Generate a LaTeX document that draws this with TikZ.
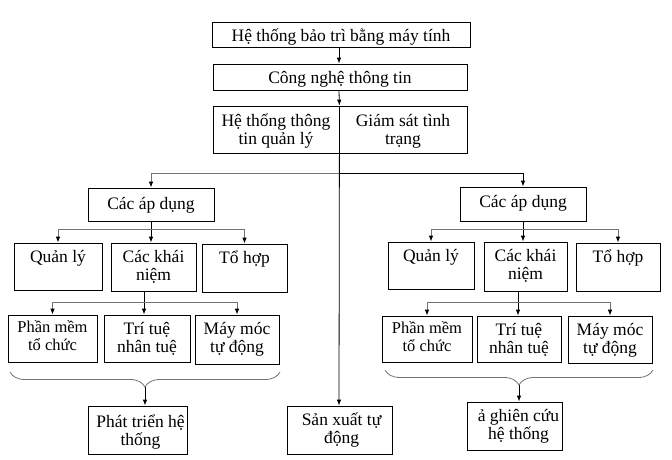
\documentclass[tikz,border=0pt]{standalone}
\usepackage{fontspec}
\setmainfont{Liberation Serif}
\usetikzlibrary{arrows.meta,fit,decorations.pathreplacing}
\tikzset{
  frame/.style={draw, line width=0.8pt, inner sep=0pt},
  lbl/.style={anchor=north, inner sep=0pt, align=center, font=\fontsize{17.5}{18}\selectfont},
  sml/.style={font=\fontsize{16.5}{17.5}\selectfont},
  arr/.style={line width=0.8pt, -{Latex[length=6pt,width=4.5pt,color=black]}},
  ln/.style={line width=0.8pt},
  gl/.style={draw=black!55},
  br/.style={line width=0.8pt, draw=black!55, decorate, decoration={brace, mirror, amplitude=15pt}},
}
% #1 label options, #2 name, #3 x1, #4 y1, #5 x2, #6 y2, #7 text
\newcommand\mkbox[7][]{%
  \node[frame, fit={(#3,-#4) (#5,-#6)}] (#2) {};
  \node[lbl,#1] (#2-t) at ([yshift=-3pt]#2.north) {\rule{0pt}{17pt}#7};
}
\begin{document}
\begin{tikzpicture}[x=1pt,y=1pt]
\useasboundingbox (0,0) rectangle (672,-459);
\fill[white] (0,0) rectangle (672,-459);

% top chain
\mkbox{top}{212}{22}{470}{47}{Hệ thống bảo trì bằng máy tính}
\mkbox{cn}{213}{64}{467}{90}{Công nghệ thông tin}
\mkbox[yshift=-1pt]{misl}{213}{106}{339}{153}{Hệ thống thông\\tin quản lý}
\mkbox[yshift=-1pt]{misr}{339}{106}{467}{153}{Giám sát tình\\trạng}

% left branch
\mkbox[yshift=-2pt]{ad1}{88}{188}{214}{221}{Các áp dụng}
\mkbox{ql1}{14}{243}{102}{290}{Quản lý}
\mkbox{ckn1}{111}{243}{196}{291}{Các khái\\niệm}
\mkbox{th1}{202}{244}{287}{292}{Tổ hợp}
\mkbox[sml,yshift=2pt]{pm1}{8}{315}{97}{362}{Phần mềm\\tổ chức}
\mkbox{tt1}{104}{315}{190}{362}{Trí tuệ\\nhân tuệ}
\mkbox{mm1}{195}{315}{279}{364}{Máy móc\\tự động}
\mkbox[yshift=-2pt,xshift=3pt]{pt1}{88}{406}{187}{454}{Phát triển hệ\\thống}

% middle
\mkbox[xshift=2pt]{sx}{287}{406}{392}{454}{Sản xuất tự\\động}

% right branch
\mkbox[yshift=-1pt]{ad2}{460}{187}{586}{221}{Các áp dụng}
\mkbox{ql2}{388}{242}{474}{289}{Quản lý}
\mkbox{ckn2}{484}{242}{567}{291}{Các khái\\niệm}
\mkbox{th2}{576}{243}{660}{291}{Tổ hợp}
\mkbox[sml,yshift=2pt]{pm2}{382}{316}{472}{362}{Phần mềm\\tổ chức}
\mkbox{tt2}{477}{316}{561}{362}{Trí tuệ\\nhân tuệ}
\mkbox{mm2}{568}{316}{652}{363}{Máy móc\\tự động}
\mkbox[xshift=4pt]{nc}{467}{402}{562}{450}{ả ghiên cứu\\hệ thống}

% helper coordinates
\coordinate (sp) at (339,0);
\coordinate (h0) at (0,-173);
\coordinate (h1) at (0,-229);
\coordinate (h2) at (0,-302);
\coordinate (c1) at (144,0);
\coordinate (c2) at (518,0);
\coordinate (b1) at (145,-387);
\coordinate (b2) at (519,-385);

% spine
\draw[arr] (top.south -| sp) -- (cn.north -| sp);
\draw[arr] (cn.south -| sp) -- (misl.north east);
\draw[arr] (misl.south east) -- (sx.north -| sp);

% to the two "Các áp dụng"
\draw[arr,gl] (sp |- h0) -| (ad1.north);
\draw[arr] (sp |- h0) -| (ad2.north);

% left second row
\draw[ln] (ad1.south) -- (ad1.south |- h1);
\draw[arr] (ad1.south |- h1) -- (ad1.south |- ckn1.north);
\draw[arr,gl] (ad1.south |- h1) -| (ql1.north);
\draw[arr,gl] (ad1.south |- h1) -| (th1.north);

% left third row
\draw[ln] (ckn1.south -| c1) -- (c1 |- h2);
\draw[arr] (c1 |- h2) -- (c1 |- tt1.north);
\draw[arr,gl] (c1 |- h2) -| (pm1.north);
\draw[arr,gl] (c1 |- h2) -| (mm1.north);

% left brace
\draw[br] (10,-372) -- (280,-372);
\draw[arr] (b1) -- (b1 |- pt1.north);

% right second row
\draw[ln] (ad2.south) -- (ad2.south |- h1);
\draw[arr] (ad2.south |- h1) -- (ad2.south |- ckn2.north);
\draw[arr,gl] (ad2.south |- h1) -| (ql2.north);
\draw[arr,gl] (ad2.south |- h1) -| (th2.north);

% right third row
\draw[ln] (ckn2.south -| c2) -- (c2 |- h2);
\draw[arr] (c2 |- h2) -- (c2 |- tt2.north);
\draw[arr,gl] (c2 |- h2) -| (pm2.north);
\draw[arr,gl] (c2 |- h2) -| (mm2.north);

% right brace
\draw[br] (385,-370) -- (653,-370);
\draw[arr] (b2) -- (b2 |- nc.north);
\end{tikzpicture}
\end{document}
